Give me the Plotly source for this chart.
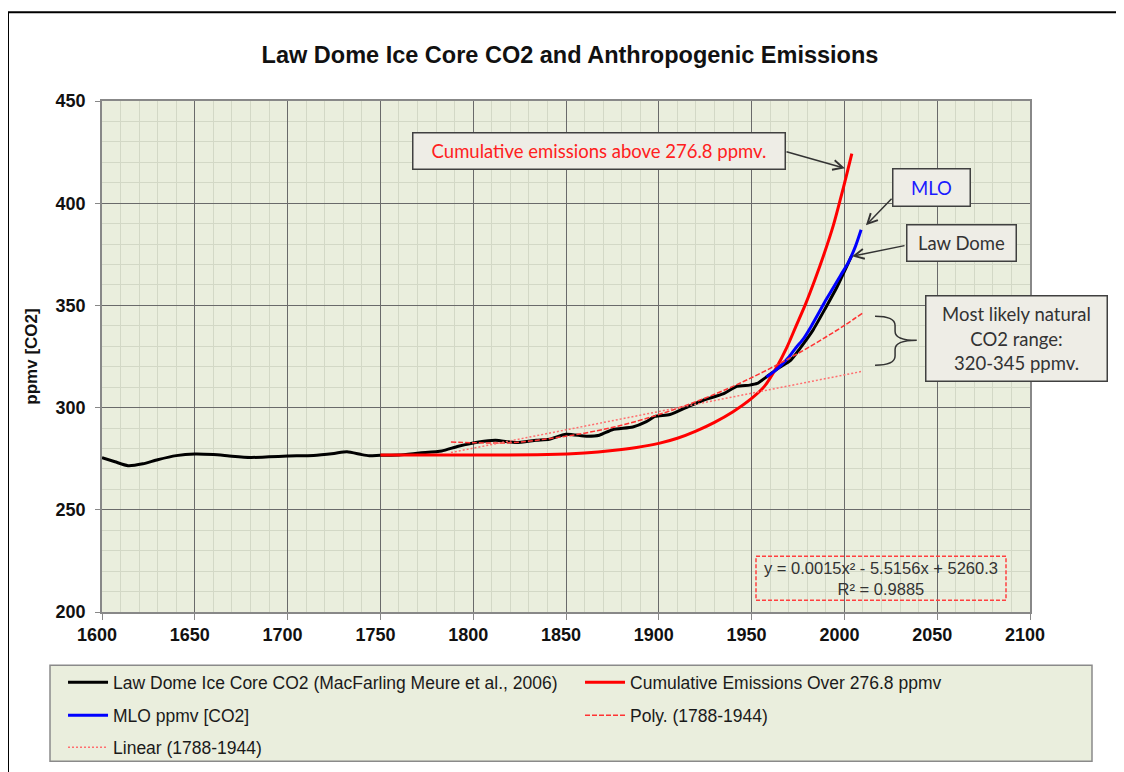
import plotly.graph_objects as go

# Law Dome ice core CO2 (MacFarling Meure et al., 2006)
law_years = [1600, 1607, 1614, 1622, 1630, 1640, 1650, 1660, 1670, 1680, 1690, 1700,
             1714, 1725, 1732, 1740, 1744, 1750, 1760, 1771, 1783, 1792, 1803, 1812,
             1823, 1834, 1841, 1850, 1861, 1868, 1875, 1886, 1893, 1898, 1906, 1917,
             1924, 1935, 1942, 1949, 1953, 1958, 1965, 1971, 1976, 1983, 1990, 1996, 2004]
law_ppm = [275.5, 273.5, 271.6, 272.5, 274.5, 276.5, 277.3, 277.0, 276.2, 275.6, 275.9, 276.3,
           276.6, 277.6, 278.4, 277.0, 276.5, 276.7, 276.8, 277.8, 278.8, 281.1, 283.2, 284.0,
           282.9, 284.0, 284.5, 287.0, 286.0, 286.5, 289.2, 290.5, 293.0, 295.7, 296.6, 301.0,
           303.6, 306.8, 310.4, 311.0, 311.8, 315.0, 319.6, 323.1, 328.9, 337.8, 349.0, 359.0, 374.5]

# cumulative anthropogenic emissions expressed as ppmv above 276.8
emis_years = [1750, 1780, 1810, 1840, 1860, 1875, 1888, 1900, 1910, 1920, 1930, 1940,
              1950, 1957, 1963, 1969, 1974, 1979, 1984, 1989, 1994, 1999, 2004]
emis_ppm = [276.8, 276.8, 276.8, 277.0, 277.8, 279.0, 280.5, 282.5, 285.0, 288.5, 292.8, 298.0,
            304.5, 310.5, 319.0, 329.5, 340.0, 350.5, 362.3, 375.0, 389.0, 406.0, 424.3]

# Mauna Loa
mlo_years = [1958, 1962, 1966, 1970, 1974, 1978, 1982, 1986, 1990, 1994, 1998, 2002, 2006, 2009]
mlo_ppm = [315.0, 317.6, 320.8, 324.6, 329.4, 333.8, 339.6, 346.0, 352.6, 358.6, 364.8, 370.8, 379.0, 387.0]

# trend lines fitted over 1788-1944 (as drawn)
poly_years = [1788, 1800, 1820, 1840, 1860, 1880, 1900, 1920, 1940, 1960, 1980, 2000, 2010]
poly_ppm = [283.2, 282.8, 282.8, 284.7, 287.5, 291.4, 296.6, 302.9, 310.4, 319.2, 329.1, 340.2, 346.4]
lin_years = [1788, 2010]
lin_ppm = [278.0, 317.8]

BG = "#EAEEDD"
ARIAL = "Liberation Sans"
CALIBRI = "Lato"

fig = go.Figure()
fig.add_trace(go.Scatter(x=law_years, y=law_ppm, mode="lines", line=dict(color="black", width=3, shape="spline", smoothing=0.6),
                         name="Law Dome Ice Core CO2 (MacFarling Meure et al., 2006)", legend="legend"))
fig.add_trace(go.Scatter(x=emis_years, y=emis_ppm, mode="lines", line=dict(color="#FF0000", width=3, shape="spline", smoothing=0.8),
                         name="Cumulative Emissions Over 276.8 ppmv", legend="legend2"))
fig.add_trace(go.Scatter(x=mlo_years, y=mlo_ppm, mode="lines", line=dict(color="#0000FF", width=3, shape="spline", smoothing=0.6),
                         name="MLO ppmv [CO2]", legend="legend3"))
fig.add_trace(go.Scatter(x=poly_years, y=poly_ppm, mode="lines", line=dict(color="#FF3333", width=1.5, dash="5px,2px", shape="spline"),
                         name="Poly. (1788-1944)", legend="legend4"))
fig.add_trace(go.Scatter(x=lin_years, y=lin_ppm, mode="lines", line=dict(color="#FF6F6F", width=1.5, dash="2px,2px"),
                         name="Linear (1788-1944)", legend="legend5"))

def leg(x, y):
    return dict(x=x, y=y, xanchor="left", yanchor="middle", orientation="h", bgcolor="rgba(0,0,0,0)",
                borderwidth=0, itemwidth=40, font=dict(family=ARIAL, size=17.5, color="#1a1a1a"))

# the page puts the figure 8px in from the window corner
fig.update_layout(
    width=1124, height=772,
    margin=dict(l=94, r=102, t=93, b=168, autoexpand=False),
    paper_bgcolor="white", plot_bgcolor=BG,
    title=dict(text="<b>Law Dome Ice Core CO2 and Anthropogenic Emissions</b>", x=0.5, xanchor="center",
               y=1 - 47 / 772, yanchor="middle", yref="container", font=dict(family=ARIAL, size=23.5, color="#111")),
    showlegend=True,
    legend=leg(-0.042, -0.1376),
    legend2=leg(0.5151, -0.1376),
    legend3=leg(-0.042, -0.2022),
    legend4=leg(0.5151, -0.2022),
    legend5=leg(-0.042, -0.2648),
)

fig.update_xaxes(range=[1600, 2100], tick0=1600, dtick=50, showgrid=True, gridcolor="#6a6a6a", gridwidth=1,
                 minor=dict(dtick=10, showgrid=True, gridcolor="#D3D8C6", gridwidth=1),
                 ticks="outside", ticklen=6, tickcolor="#888", showline=True, linecolor="#888", linewidth=1.5, mirror=True,
                 zeroline=False, ticklabelshift=-5, tickfont=dict(family=ARIAL, size=18, color="#111", weight="bold"))
fig.update_yaxes(range=[200, 450], tick0=200, dtick=50, showgrid=True, gridcolor="#6a6a6a", gridwidth=1,
                 minor=dict(dtick=10, showgrid=True, gridcolor="#D3D8C6", gridwidth=1),
                 ticks="outside", ticklen=5, tickcolor="#888", showline=True, linecolor="#888", linewidth=1.5, mirror=True,
                 zeroline=False, ticklabelstandoff=6, tickfont=dict(family=ARIAL, size=18, color="#111", weight="bold"),
                 title=dict(text="<b>ppmv [CO2]</b>", font=dict(family=ARIAL, size=17, color="#111"), standoff=14))

# outer frame and legend box
fig.add_shape(type="rect", xref="paper", yref="paper", x0=(8 - 102) / 928, x1=(1140 - 102) / 928,
              y0=(611.7 - 790) / 511, y1=(611.7 - 12) / 511, line=dict(color="black", width=2), layer="below")
fig.add_shape(type="rect", xref="paper", yref="paper", x0=(50 - 102) / 928, x1=(1092 - 102) / 928,
              y0=(611.7 - 761) / 511, y1=(611.7 - 665) / 511, line=dict(color="#8a8a8a", width=1.5), fillcolor=BG, layer="below")

# callout boxes
def box(text, xp, yp, w, h, color, size=18.5):
    fig.add_annotation(text=text, xref="paper", yref="paper", x=xp, y=yp, xanchor="center", yanchor="middle",
                       showarrow=False, width=w, height=h, bgcolor="#EEEDE6", bordercolor="#404040", borderwidth=1.5,
                       borderpad=0, font=dict(family=CALIBRI, size=size, color=color))

box("Cumulative emissions above 276.8 ppmv.", (598.5 - 102) / 928, (611.7 - 150.5) / 511, 371, 35, "#FF2020")
box("MLO", (931.5 - 102) / 928, (611.7 - 187) / 511, 76, 36, "#1a1aff")
box("Law Dome", (961 - 102) / 928, (611.7 - 243) / 511, 108, 35, "#333333")
box("Most likely natural<br>CO2 range:<br>320-345 ppmv.", (1016 - 102) / 928, (611.7 - 338) / 511, 180, 84, "#333333")

# arrows
for ax, ay, x, y in [(1968.0, 425.4, 2000.3, 417.1), (2026.2, 402.9, 2011.6, 389.2), (2033.2, 379.4, 2004.1, 374.0)]:
    fig.add_annotation(text="", x=x, y=y, ax=ax, ay=ay, xref="x", yref="y", axref="x", ayref="y",
                       showarrow=True, arrowhead=5, arrowsize=1.3, arrowwidth=1.5, arrowcolor="#333",
                       standoff=0, startstandoff=0)

# curly brace marking 320-345 ppmv
fig.add_shape(type="path", xref="x", yref="y",
              path="M 2016.5,344.7 Q 2027.3,344.7 2027.3,340.2 L 2027.3,337.4 Q 2027.3,332.9 2039,332.9 "
                   "Q 2027.3,332.9 2027.3,328.4 L 2027.3,325.2 Q 2027.3,320.7 2016.5,320.7",
              line=dict(color="#333", width=1.5))

# fit equation
fig.add_shape(type="rect", xref="paper", yref="paper", x0=(756 - 102) / 928, x1=(1006 - 102) / 928,
              y0=(611.7 - 600) / 511, y1=(611.7 - 556) / 511, line=dict(color="#FF4040", width=1.5, dash="4px,2px"))
fig.add_annotation(text="y = 0.0015x² - 5.5156x + 5260.3<br>R² = 0.9885", xref="paper", yref="paper",
                   x=(881 - 102) / 928, y=(611.7 - 578) / 511, showarrow=False, xanchor="center", yanchor="middle",
                   font=dict(family=ARIAL, size=16.5, color="#333"))

fig.write_html("out.html")
